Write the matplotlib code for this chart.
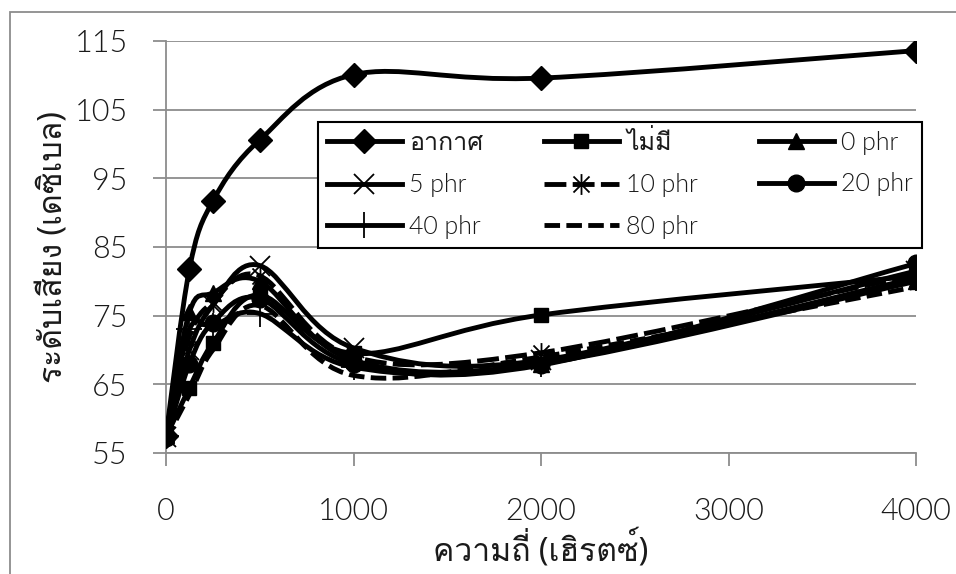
import numpy as np
import matplotlib
matplotlib.use('Agg')
import matplotlib.pyplot as plt
from matplotlib import font_manager
from matplotlib.ft2font import FT2Font
from matplotlib.lines import Line2D
from matplotlib.patches import PathPatch, Rectangle
from matplotlib.path import Path

# Data
freq = [0, 125, 250, 500, 1000, 2000, 4000]
air = [57.5, 81.8, 91.7, 100.6, 110.1, 109.6, 113.6]
none = [57.3, 64.5, 71.0, 78.0, 69.5, 75.1, 80.8]
phr0 = [57.6, 75.5, 78.3, 80.0, 68.5, 68.0, 80.0]
phr5 = [57.4, 70.0, 76.5, 82.3, 70.3, 68.5, 81.5]
phr10 = [57.8, 72.0, 77.0, 80.8, 69.0, 69.6, 81.0]
phr20 = [57.2, 68.0, 74.0, 77.5, 68.0, 67.8, 82.6]
phr40 = [57.5, 73.0, 73.5, 75.3, 67.5, 68.0, 80.5]
phr80 = [57.0, 63.5, 70.0, 76.5, 66.3, 69.0, 79.2]
labels = ['อากาศ', 'ไม่มี', '0 phr', '5 phr', '10 phr', '20 phr', '40 phr', '80 phr']
yticks = [55, 65, 75, 85, 95, 105, 115]
xticks = [0, 1000, 2000, 3000, 4000]


# first installed font that has Thai glyphs, as a fallback
def thai_font():
    for f in font_manager.fontManager.ttflist:
        try:
            if 0x0E2D in FT2Font(f.fname).get_charmap():
                return f.name
        except Exception:
            pass
    return None


tf = thai_font()
thai = ['Noto Sans'] + ([tf] if tf else []) + ['DejaVu Sans']
latin = ['Lato', 'DejaVu Sans']
plt.rcParams['font.family'] = thai


def is_thai(s):
    return any(0x0E00 <= ord(c) <= 0x0E7F for c in s)


def smooth(x, y):
    # Excel-style smoothed line (Catmull-Rom as cubic Bezier)
    x = np.asarray(x, float)
    y = np.asarray(y, float)
    px = np.concatenate([[x[0]], x, [x[-1]]])
    py = np.concatenate([[y[0]], y, [y[-1]]])
    verts = [(x[0], y[0])]
    codes = [Path.MOVETO]
    for i in range(len(x) - 1):
        verts.append((x[i] + (px[i + 2] - px[i]) / 6, y[i] + (py[i + 2] - py[i]) / 6))
        verts.append((x[i + 1] - (px[i + 3] - px[i + 1]) / 6, y[i + 1] - (py[i + 3] - py[i + 1]) / 6))
        verts.append((x[i + 1], y[i + 1]))
        codes += [Path.CURVE4] * 3
    return Path(verts, codes)


star = Path([(-1, -1), (1, 1), (-1, 1), (1, -1), (0, -1.3), (0, 1.3)],
            [Path.MOVETO, Path.LINETO, Path.MOVETO, Path.LINETO, Path.MOVETO, Path.LINETO])

series = [air, none, phr0, phr5, phr10, phr20, phr40, phr80]
styles = [
    dict(marker='D', ms=12),
    dict(marker='s', ms=10.5),
    dict(marker='^', ms=12),
    dict(marker='x', ms=14, mew=1.3),
    dict(marker=star, ms=15, mew=1.3, ls=(0, (4.5, 1.3))),
    dict(marker='o', ms=12),
    dict(marker='+', ms=19, mew=1.3),
    dict(marker='None', ls=(0, (3.2, 1.3))),
]

fig = plt.figure(figsize=(9.56, 5.74), dpi=100)
ax = fig.add_axes([166 / 956, 1 - 453 / 574, 750 / 956, 412 / 574])

lw = 3.5
gray = '#8c8c8c'
txt = '#1a1a1a'
handles = []
for k, (vals, st) in enumerate(zip(series, styles)):
    ls = st.get('ls', '-')
    ax.add_patch(PathPatch(smooth(freq, vals), fill=False, edgecolor='black',
                           lw=lw, ls=ls, capstyle='butt', zorder=3 + k))
    ax.plot(freq, vals, ls='none', marker=st['marker'], ms=st.get('ms', 10),
            mew=st.get('mew', 1), color='black', zorder=3 + k)
    handles.append(Line2D([], [], color='black', lw=lw, ls=ls, marker=st['marker'],
                          ms=st.get('ms', 10), mew=st.get('mew', 1)))

ax.set_xlim(0, 4000)
ax.set_ylim(55, 115)
ax.set_xticks(xticks)
ax.set_yticks(yticks)
ax.grid(axis='y', color=gray, lw=1.3)
ax.set_axisbelow(True)
for s in ['top', 'right']:
    ax.spines[s].set_visible(False)
for s in ['left', 'bottom']:
    ax.spines[s].set_color(gray)
    ax.spines[s].set_linewidth(1.3)
ax.tick_params(axis='both', length=9.5, width=1.3, color=gray, labelsize=22, labelcolor=txt)
ax.tick_params(axis='y', pad=18)
ax.tick_params(axis='x', pad=22)
for lbl in ax.get_xticklabels() + ax.get_yticklabels():
    lbl.set_family(latin)
    lbl.set_fontweight(300)

ax.set_xlabel('ความถี่ (เฮิรตซ์)', fontsize=23, color=txt, labelpad=3)
ax.set_ylabel('ระดับเสียง (เดซิเบล)', fontsize=23, color=txt, labelpad=3)

# legend laid out in rows like Excel
order = [0, 3, 6, 1, 4, 7, 2, 5]
leg = fig.legend([handles[i] for i in order], [labels[i] for i in order],
                 ncol=3, loc='upper left', mode='expand', borderaxespad=0,
                 bbox_to_anchor=(318 / 956, 1 - 253 / 574, 604 / 956, 131 / 574),
                 fontsize=18, handlelength=3.0, handletextpad=0.3, labelspacing=0.7,
                 borderpad=0.35, columnspacing=0.8, frameon=True, fancybox=False,
                 edgecolor='black', framealpha=1, labelcolor=txt)
leg.get_frame().set_linewidth(1.5)
for t in leg.get_texts():
    if not is_thai(t.get_text()):
        t.set_family(latin)
        t.set_fontweight(300)

# outer chart border
fig.patches.append(Rectangle((10 / 956, -0.1), 1.2, 1.1 - 12 / 574, transform=fig.transFigure,
                             fill=False, edgecolor=gray, lw=1.3))

fig.savefig('out.png', dpi=100)
